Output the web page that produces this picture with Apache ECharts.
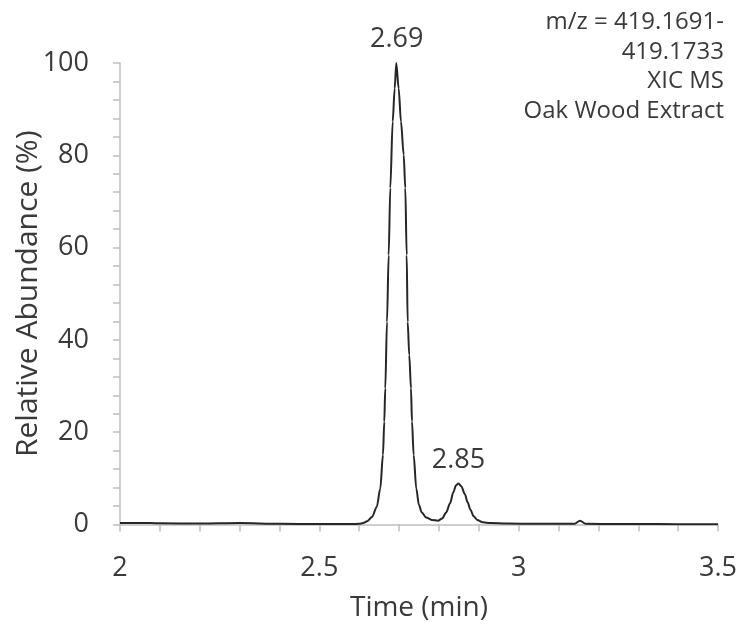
<!DOCTYPE html>
<html>
<head>
<meta charset="utf-8">
<script src="https://cdn.jsdelivr.net/npm/echarts@6/dist/echarts.min.js"></script>
<style>
  html, body { margin: 0; padding: 0; background: #fff; }
  #chart { width: 743px; height: 629px; }
</style>
</head>
<body>
<div id="chart"></div>
<script>
// retention time (min) and relative abundance (%)
const times = [2.00, 2.05, 2.10, 2.20, 2.30, 2.40, 2.50, 2.58, 2.60, 2.61, 2.62, 2.632, 2.644, 2.6529, 2.6596, 2.6629, 2.6654,
  2.6697, 2.6739, 2.678, 2.684, 2.689, 2.693, 2.699, 2.7048, 2.7116, 2.7156, 2.7191, 2.7216, 2.7256, 2.7299,
  2.7324, 2.7366, 2.7432, 2.7499, 2.757, 2.768, 2.782, 2.7976,
  2.808, 2.818, 2.828, 2.836, 2.843, 2.849, 2.856, 2.865, 2.872, 2.879, 2.887, 2.896, 2.91, 2.93, 2.97,
  3.05, 3.14, 3.154, 3.168, 3.25, 3.35, 3.45, 3.50];
const abundance = [0.3, 0.35, 0.25, 0.2, 0.3, 0.15, 0.1, 0.1, 0.15, 0.3, 0.7, 1.6, 3.8, 7.8, 15.1, 22.3, 29.5,
  43.9, 58.4, 72.9, 87.3, 94.5, 100, 94.5, 87.3, 80.1, 72.9, 58.4, 43.9, 36.7, 29.5,
  22.3, 15.1, 7.8, 4.2, 2.6, 1.5, 1.0, 0.8,
  1.3, 2.6, 4.6, 7.0, 8.5, 8.9, 8.3, 6.6, 4.8, 3.2, 1.8, 1.0, 0.5, 0.3, 0.2,
  0.15, 0.15, 0.8, 0.15, 0.1, 0.1, 0.05, 0.05];

const peakTimes = [2.694, 2.849];
const peakValues = [100, 8.9];
const peakLabels = ['2.69', '2.85'];

const infoLines = ['m/z = 419.1691-', '419.1733', 'XIC MS', 'Oak Wood Extract'];

const font = '"Open Sans", "Liberation Sans", sans-serif';
const axisGrey = '#bfbfbf';
const textColor = '#3a3a3a';

const chart = echarts.init(document.getElementById('chart'));

chart.setOption({
  animation: false,
  grid: { left: 120, right: 25, top: 63, bottom: 104.5, outerBoundsMode: 'none', containLabel: false },
  xAxis: {
    type: 'value',
    min: 2, max: 3.5, interval: 0.5,
    name: 'Time (min)',
    nameLocation: 'middle',
    nameGap: 70,
    nameMoveOverlap: false,
    nameTextStyle: { fontFamily: font, fontSize: 28, color: textColor },
    axisLine: { lineStyle: { color: axisGrey, width: 1.5 } },
    axisTick: { show: true, length: 7, lineStyle: { color: axisGrey, width: 1.5 } },
    minorTick: { show: true, splitNumber: 5, length: 7, lineStyle: { color: axisGrey, width: 1.5 } },
    axisLabel: { fontFamily: font, fontSize: 27, color: textColor, margin: 30 },
    splitLine: { show: false }
  },
  yAxis: {
    type: 'value',
    min: 0, max: 100, interval: 20,
    name: 'Relative Abundance (%)',
    nameLocation: 'middle',
    nameGap: 77,
    nameMoveOverlap: false,
    nameTextStyle: { fontFamily: font, fontSize: 30, color: textColor },
    axisLine: { show: true, lineStyle: { color: axisGrey, width: 1.5 } },
    axisTick: { show: true, length: 7, lineStyle: { color: axisGrey, width: 1.5 } },
    minorTick: { show: true, splitNumber: 5, length: 7, lineStyle: { color: axisGrey, width: 1.5 } },
    axisLabel: { fontFamily: font, fontSize: 27, color: textColor, margin: 31 },
    splitLine: { show: false }
  },
  series: [
    {
      type: 'line',
      data: times.map((t, i) => [t, abundance[i]]),
      showSymbol: false,
      smooth: 0.3,
      smoothMonotone: 'x',
      lineStyle: { color: '#262626', width: 2 },
      z: 3
    },
    {
      type: 'scatter',
      data: peakTimes.map((t, i) => ({ value: [t, peakValues[i]], label: { formatter: peakLabels[i] } })),
      symbolSize: 0,
      label: {
        show: true, position: 'top', distance: 10,
        fontFamily: font, fontSize: 27, color: textColor, opacity: 1
      },
      emphasis: { disabled: true },
      silent: true
    }
  ],
  graphic: infoLines.map((line, i) => ({
    type: 'text',
    right: 19,
    top: 10 + i * 29.7,
    style: {
      text: line,
      fontFamily: font,
      fontSize: 24,
      fill: textColor
    }
  }))
});
</script>
</body>
</html>
